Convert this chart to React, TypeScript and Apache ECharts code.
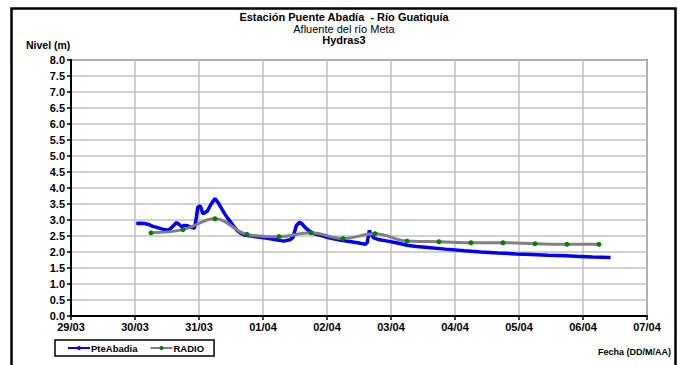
import React, { useEffect, useRef } from "react";
import * as echarts from "echarts";

const dayLabels = ["29/03", "30/03", "31/03", "01/04", "02/04", "03/04", "04/04", "05/04", "06/04", "07/04"];

// Days counted from 29/03 00:00
const pteDays = [1.02, 1.08, 1.15, 1.21, 1.28, 1.34, 1.4, 1.46, 1.52, 1.56, 1.6, 1.65, 1.69, 1.73, 1.77, 1.82, 1.88, 1.93, 1.96, 1.98, 2.02, 2.06, 2.1, 2.13, 2.19, 2.25, 2.3, 2.34, 2.4, 2.45, 2.5, 2.56, 2.6, 2.66, 2.72, 2.82, 2.92, 3.04, 3.16, 3.25, 3.32, 3.42, 3.47, 3.52, 3.57, 3.61, 3.66, 3.72, 3.8, 3.9, 4.0, 4.1, 4.22, 4.38, 4.5, 4.6, 4.63, 4.66, 4.69, 4.73, 4.82, 4.95, 5.1, 5.25, 5.4, 5.62, 5.85, 6.15, 6.4, 6.67, 6.95, 7.2, 7.45, 7.73, 7.95, 8.15, 8.43];
const pteLevels = [2.89, 2.9, 2.89, 2.86, 2.8, 2.77, 2.73, 2.7, 2.68, 2.74, 2.82, 2.92, 2.86, 2.79, 2.83, 2.82, 2.77, 2.74, 3.1, 3.4, 3.44, 3.2, 3.24, 3.28, 3.5, 3.67, 3.54, 3.4, 3.2, 3.05, 2.92, 2.76, 2.66, 2.58, 2.52, 2.5, 2.47, 2.44, 2.4, 2.37, 2.34, 2.38, 2.46, 2.82, 2.93, 2.88, 2.76, 2.66, 2.57, 2.52, 2.46, 2.41, 2.37, 2.32, 2.28, 2.24, 2.3, 2.67, 2.55, 2.44, 2.38, 2.34, 2.28, 2.21, 2.17, 2.13, 2.09, 2.04, 2.0, 1.97, 1.94, 1.92, 1.9, 1.88, 1.86, 1.84, 1.83];

const radioDays = [1.25, 1.75, 2.25, 2.75, 3.25, 3.75, 4.25, 4.75, 5.25, 5.75, 6.25, 6.75, 7.25, 7.75, 8.25];
const radioLevels = [2.6, 2.7, 3.04, 2.55, 2.48, 2.6, 2.42, 2.57, 2.34, 2.32, 2.29, 2.29, 2.26, 2.24, 2.24];

const FONT = "'Liberation Sans', Arial, sans-serif";

export default function App() {
  const ref = useRef<HTMLDivElement>(null);
  useEffect(() => {
    if (!ref.current) return;
    const chart = echarts.init(ref.current, null, { renderer: "svg" });
    const pteData = pteDays.map((d, i) => [d, pteLevels[i]]);
    const radioData = radioDays.map((d, i) => [d, radioLevels[i]]);
    chart.setOption({
      animation: false,
      backgroundColor: "#fff",
      textStyle: { fontFamily: FONT },
      grid: {
        left: 71,
        right: 32,
        top: 60,
        bottom: 49,
        show: true,
        borderColor: "#808080",
        borderWidth: 2,
        backgroundColor: "#fff",
      },
      xAxis: {
        type: "value",
        min: 0,
        max: 9,
        interval: 1,
        axisLine: { show: true, onZero: false, lineStyle: { color: "#000", width: 2 } },
        axisTick: { show: true, length: 4, lineStyle: { color: "#000", width: 1.5 } },
        splitLine: { show: true, lineStyle: { color: "#c0c0c0", width: 1.5 } },
        axisLabel: {
          formatter: (v: number) => dayLabels[Math.round(v)] ?? "",
          color: "#000",
          fontWeight: "bold",
          fontSize: 11,
          fontFamily: FONT,
          margin: 5,
        },
      },
      yAxis: {
        type: "value",
        min: 0,
        max: 8,
        interval: 0.5,
        axisLine: { show: true, onZero: false, lineStyle: { color: "#000", width: 2 } },
        axisTick: { show: true, length: 4, lineStyle: { color: "#000", width: 1.5 } },
        splitLine: { show: true, lineStyle: { color: "#c0c0c0", width: 1.5 } },
        axisLabel: {
          formatter: (v: number) => v.toFixed(1),
          color: "#000",
          fontWeight: "bold",
          fontSize: 11,
          fontFamily: FONT,
          margin: 6,
        },
      },
      legend: {
        left: 55,
        top: 340,
        orient: "horizontal",
        borderColor: "#000",
        borderWidth: 1.5,
        padding: [3, 10, 3, 12],
        itemWidth: 22,
        itemHeight: 5,
        itemGap: 12,
        textStyle: { fontFamily: FONT, fontWeight: "bold", fontSize: 9.5, color: "#000", padding: [0, 0, 0, -4] },
        data: ["PteAbadia", "RADIO"],
      },
      graphic: [
        {
          type: "rect",
          z: -10,
          shape: { x: 11.5, y: 8.5, width: 664, height: 400 },
          style: { fill: "none", stroke: "#000", lineWidth: 2.5 },
          silent: true,
        },
        {
          type: "text",
          style: { text: "Estación Puente Abadía  - Río Guatiquía", x: 344, y: 11, textAlign: "center", font: `bold 11px ${FONT}`, fill: "#000" },
        },
        {
          type: "text",
          style: { text: "Afluente del río Meta", x: 344, y: 23, textAlign: "center", font: `11px ${FONT}`, fill: "#000" },
        },
        {
          type: "text",
          style: { text: "Hydras3", x: 344, y: 34, textAlign: "center", font: `bold 11px ${FONT}`, fill: "#000" },
        },
        {
          type: "text",
          style: { text: "Nivel (m)", x: 26, y: 39, textAlign: "left", font: `bold 10.5px ${FONT}`, fill: "#000" },
        },
        {
          type: "text",
          style: { text: "Fecha (DD/M/AA)", x: 671, y: 347, textAlign: "right", font: `bold 9px ${FONT}`, fill: "#000" },
        },
      ],
      series: [
        {
          name: "PteAbadia",
          type: "line",
          data: pteData,
          symbol: "none",
          lineStyle: { color: "#0000ff", width: 3.5 },
          itemStyle: { color: "#0000ff" },
        },
        {
          name: "RADIO",
          type: "line",
          data: radioData,
          smooth: 0.4,
          symbol: "circle",
          symbolSize: 5,
          showSymbol: true,
          lineStyle: { color: "#808080", width: 3 },
          itemStyle: { color: "#008000", borderWidth: 0 },
        },
      ],
    });
    return () => chart.dispose();
  }, []);
  return (
    <div
      ref={ref}
      style={{ position: "fixed", left: 0, top: 0, width: 679, height: 365 }}
    />
  );
}
